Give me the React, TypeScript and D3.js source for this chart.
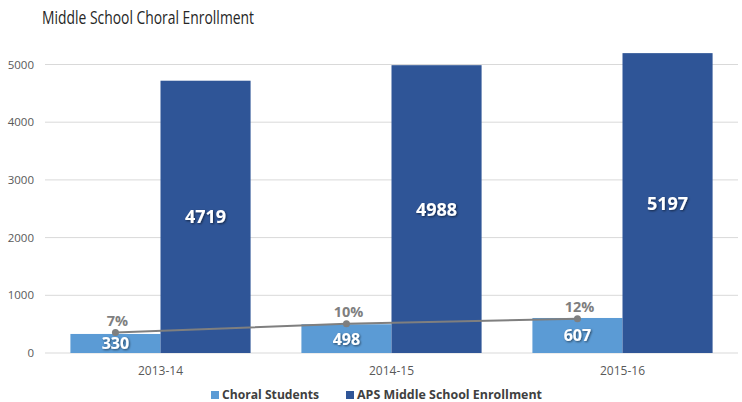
import React from "react";
import * as d3 from "d3";

const categories = ["2013-14", "2014-15", "2015-16"];
const choralStudents = [330, 498, 607];
const apsEnrollment = [4719, 4988, 5197];
const choralPct = [0.0699, 0.0998, 0.1168];
const pctLabels = ["7%", "10%", "12%"];
const yTicks = [0, 1000, 2000, 3000, 4000, 5000];
const seriesNames = ["Choral Students", "APS Middle School Enrollment"];

const W = 742;
const H = 402;
const LIGHT = "#5B9BD5";
const DARK = "#2F5597";
const GRID = "#D9D9D9";
const FONT = "'Open Sans', 'DejaVu Sans', sans-serif";

export default function App() {
  const x = d3.scaleBand<string>().domain(categories).range([45, 738]).paddingInner(0.22).paddingOuter(0.11);
  const inner = d3.scaleBand<string>().domain(seriesNames).range([0, x.bandwidth()]);
  const y = d3.scaleLinear().domain([0, 5000]).range([353, 64.5]);
  const y2 = d3.scaleLinear().domain([0, 1]).range([353, 60]);

  const linePts: [number, number][] = categories.map((c, i) => [
    (x(c) as number) + (inner(seriesNames[0]) as number) + inner.bandwidth() / 2,
    y2(choralPct[i]),
  ]);
  const line = d3.line();

  return (
    <svg width={W} height={H} style={{ position: "absolute", left: 0, top: 0 }}>
      <defs>
        <filter id="sh" x="-20%" y="-20%" width="140%" height="140%">
          <feDropShadow dx="1" dy="1" stdDeviation="0.8" floodColor="#000" floodOpacity="0.55" />
        </filter>
      </defs>
      <rect width={W} height={H} fill="#fff" />
      <text x={42} y={24} fontFamily={FONT} fontSize={19} fill="#262626" textLength={212} lengthAdjust="spacingAndGlyphs">
        Middle School Choral Enrollment
      </text>
      {yTicks.map((t) => (
        <g key={t}>
          <line x1={45} x2={738} y1={y(t)} y2={y(t)} stroke={GRID} strokeWidth={1} />
          <text x={34} y={y(t) + 4} textAnchor="end" fontFamily={FONT} fontSize={11.5} fill="#595959">
            {t}
          </text>
        </g>
      ))}
      {categories.map((c, i) => {
        const x0 = x(c) as number;
        const xl = x0 + (inner(seriesNames[0]) as number);
        const xd = x0 + (inner(seriesNames[1]) as number);
        const bw = inner.bandwidth();
        return (
          <g key={c}>
            <rect x={xl} y={y(choralStudents[i])} width={bw} height={y(0) - y(choralStudents[i])} fill={LIGHT} />
            <rect x={xd} y={y(apsEnrollment[i])} width={bw} height={y(0) - y(apsEnrollment[i])} fill={DARK} />
            <text x={xl + bw / 2} y={(y(choralStudents[i]) + y(0)) / 2 + 6} textAnchor="middle" fontFamily={FONT} fontWeight="bold" fontSize={16} fill="#fff" filter="url(#sh)">
              {choralStudents[i]}
            </text>
            <text x={xd + bw / 2} y={(y(apsEnrollment[i]) + y(0)) / 2 + 6.5} textAnchor="middle" fontFamily={FONT} fontWeight="bold" fontSize={18} fill="#fff" filter="url(#sh)">
              {apsEnrollment[i]}
            </text>
            <text x={x0 + x.bandwidth() / 2} y={375} textAnchor="middle" fontFamily={FONT} fontSize={12} fill="#595959">
              {c}
            </text>
          </g>
        );
      })}
      <path d={line(linePts) || ""} fill="none" stroke="#7F7F7F" strokeWidth={2} />
      {linePts.map((p, i) => (
        <g key={i}>
          <circle cx={p[0]} cy={p[1]} r={3.5} fill="#7F7F7F" />
          <text x={p[0] + 2} y={p[1] - 7} textAnchor="middle" fontFamily={FONT} fontWeight="bold" fontSize={14.5} fill="#7F7F7F">
            {pctLabels[i]}
          </text>
        </g>
      ))}
      <rect x={211} y={391} width={8} height={8} fill={LIGHT} />
      <text x={222} y={399} fontFamily={FONT} fontWeight="bold" fontSize={12.5} fill="#404040" textLength={97} lengthAdjust="spacingAndGlyphs">
        {seriesNames[0]}
      </text>
      <rect x={346} y={391} width={8} height={8} fill={DARK} />
      <text x={357} y={399} fontFamily={FONT} fontWeight="bold" fontSize={12.5} fill="#404040" textLength={185} lengthAdjust="spacingAndGlyphs">
        {seriesNames[1]}
      </text>
    </svg>
  );
}
